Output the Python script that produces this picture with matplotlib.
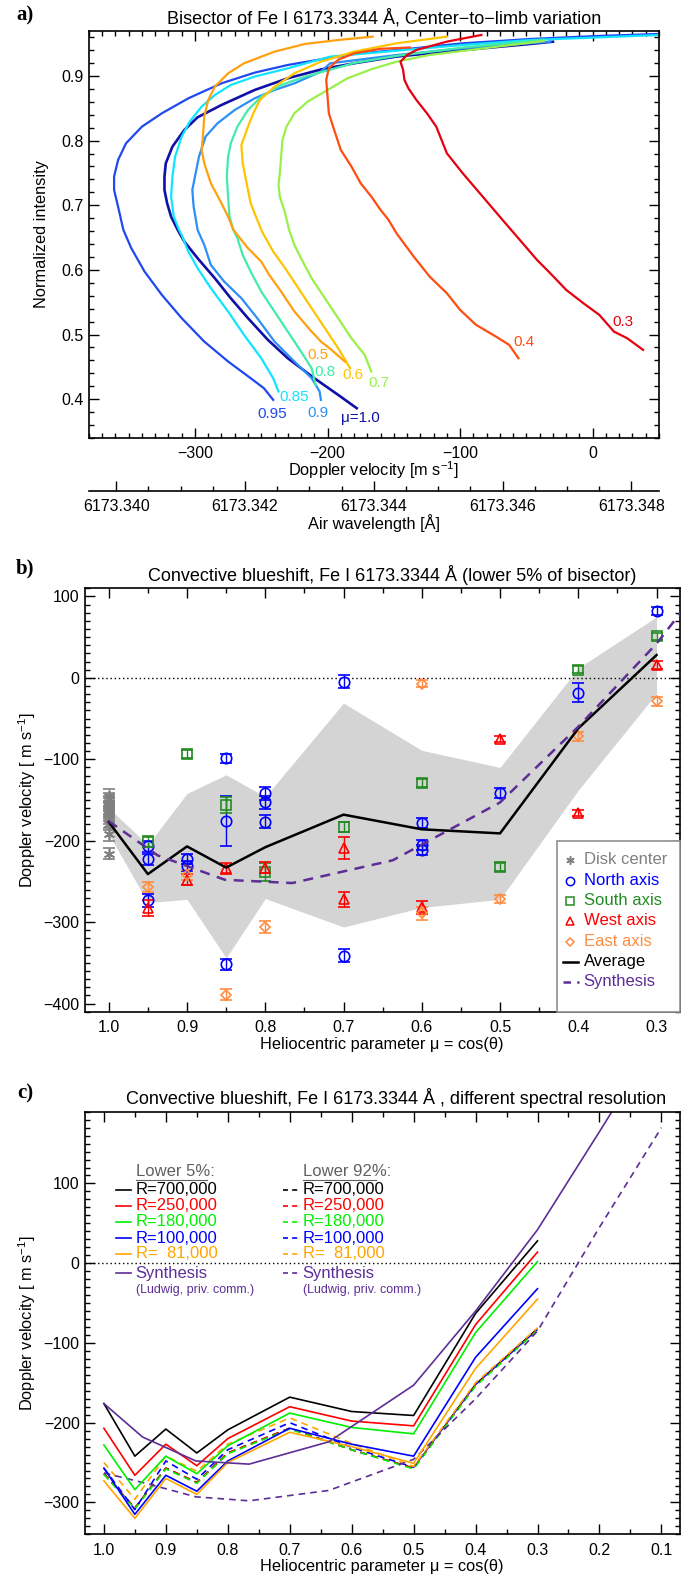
import numpy as np
import matplotlib
matplotlib.use("Agg")
import matplotlib.pyplot as plt
from matplotlib.ticker import MultipleLocator, FixedLocator, FormatStrFormatter
from matplotlib.patches import Rectangle
from matplotlib.lines import Line2D

plt.rcParams['font.family'] = ['Liberation Sans', 'DejaVu Sans']
plt.rcParams['mathtext.fontset'] = 'custom'
plt.rcParams['mathtext.rm'] = 'Liberation Sans'
plt.rcParams['mathtext.it'] = 'Liberation Sans:italic'

# ------------------------------------------------------------
# Panel a: bisectors, Doppler velocity [m/s] vs normalized intensity
# ------------------------------------------------------------
mu_labels = ["μ=1.0", "0.95", "0.9", "0.85", "0.8", "0.7", "0.6", "0.5", "0.4", "0.3"]
curve_colors = ["#1010a8", "#2048f0", "#2c8ff8", "#10e4ff", "#40eca8",
                "#98f048", "#ffc400", "#ffa010", "#ff4c10", "#e60010"]

bis_10_v = [-30, -47, -98, -148, -180, -205, -230, -255, -280, -298, -308, -317, -322, -323, -323,
            -321, -318, -313, -308, -298, -285, -273, -260, -245, -230, -210, -192, -178]
bis_10_i = [0.953, 0.9495, 0.940, 0.930, 0.9196, 0.910, 0.8964, 0.8783, 0.8551, 0.8361, 0.8165, 0.7907,
            0.7649, 0.7443, 0.7237, 0.7031, 0.6824, 0.6618, 0.6438, 0.618, 0.5871, 0.5562, 0.5253,
            0.4918, 0.4634, 0.4325, 0.4067, 0.3861]
bis_095_v = [51, 3, -47, -98, -148, -180, -205, -230, -255, -280, -305, -325, -340, -352, -358, -361,
             -361, -358, -354, -348, -338, -325, -310, -293, -275, -258, -248, -241]
bis_095_i = [0.965, 0.9618, 0.9572, 0.9505, 0.940, 0.934, 0.9257, 0.917, 0.9051, 0.8886, 0.8654, 0.8422,
             0.8216, 0.7958, 0.77, 0.7443, 0.7237, 0.6979, 0.6618, 0.6335, 0.5974, 0.5614, 0.5253,
             0.4892, 0.4583, 0.4325, 0.417, 0.399]
bis_09_v = [-32, -98, -148, -198, -205, -225, -240, -255, -270, -283, -292, -297, -300, -302, -301,
            -298, -293, -288, -278, -265, -253, -240, -225, -212, -206, -205]
bis_09_i = [0.953, 0.9427, 0.9324, 0.9196, 0.9067, 0.8886, 0.8783, 0.8654, 0.8474, 0.8268, 0.8062,
            0.7752, 0.7443, 0.7237, 0.6979, 0.6618, 0.6387, 0.6077, 0.582, 0.5562, 0.5253, 0.4892,
            0.4583, 0.4325, 0.4119, 0.399]
bis_085_v = [51, -47, -98, -148, -198, -230, -255, -273, -285, -295, -304, -310, -315, -317, -318,
             -316, -312, -310, -305, -298, -288, -275, -263, -250, -241, -237]
bis_085_i = [0.9634, 0.9556, 0.9479, 0.9391, 0.9299, 0.9118, 0.899, 0.886, 0.8706, 0.8525, 0.8293,
             0.8062, 0.7752, 0.7443, 0.7134, 0.6824, 0.6618, 0.6541, 0.6284, 0.6026, 0.5717, 0.5356,
             0.4995, 0.4634, 0.4325, 0.4119]
bis_08_v = [-37, -98, -148, -180, -217, -235, -250, -260, -268, -273, -275, -276, -275, -274, -271,
            -268, -264, -258, -250, -240, -230, -220, -212, -209]
bis_08_i = [0.956, 0.944, 0.931, 0.920, 0.8989, 0.886, 0.868, 0.8474, 0.8216, 0.7958, 0.7752, 0.7443,
            0.7134, 0.6824, 0.6618, 0.649, 0.6232, 0.5974, 0.5665, 0.5356, 0.5046, 0.4737, 0.4479, 0.4222]
bis_07_v = [-37, -72, -123, -148, -167, -185, -200, -215, -225, -231, -234, -235, -236, -237, -236,
            -232, -229, -225, -220, -212, -202, -192, -182, -172, -167]
bis_07_i = [0.954, 0.9453, 0.9325, 0.9221, 0.9103, 0.8964, 0.8783, 0.8603, 0.8422, 0.8216, 0.801,
            0.7752, 0.7494, 0.7314, 0.7134, 0.6876, 0.6618, 0.6387, 0.618, 0.5871, 0.5562, 0.5253,
            0.4943, 0.4686, 0.4428]
bis_06_v = [-110, -148, -180, -205, -225, -240, -251, -256, -260, -265, -264, -261, -258, -254, -250,
            -248, -241, -232, -222, -212, -202, -192, -183]
bis_06_i = [0.9608, 0.9505, 0.9376, 0.9221, 0.9041, 0.8835, 0.8629, 0.8422, 0.8216, 0.7932, 0.7649,
            0.734, 0.7031, 0.6824, 0.6618, 0.6541, 0.6284, 0.6026, 0.5717, 0.5407, 0.5098, 0.4789, 0.4479]
bis_05_v = [-166, -192, -217, -240, -263, -275, -285, -290, -293, -294, -295, -293, -288, -280, -275,
            -271, -260, -250, -244, -235, -225, -212, -205, -197, -187]
bis_05_i = [0.9608, 0.9556, 0.9495, 0.9376, 0.9196, 0.9041, 0.8835, 0.8629, 0.8371, 0.8062, 0.7855,
            0.7649, 0.734, 0.7031, 0.6824, 0.6618, 0.6335, 0.6129, 0.5923, 0.5665, 0.5356, 0.5046,
            0.4892, 0.4763, 0.4583]
bis_04_v = [-138, -160, -180, -192, -199, -201, -200, -199, -195, -190, -182, -175, -167, -160, -154,
            -148, -135, -123, -110, -100, -88, -73, -63, -56]
bis_04_i = [0.944, 0.942, 0.935, 0.925, 0.912, 0.894, 0.868, 0.842, 0.8165, 0.7855, 0.76, 0.734,
            0.7134, 0.6928, 0.6773, 0.6567, 0.6206, 0.5897, 0.5639, 0.5381, 0.515, 0.4969, 0.484, 0.4634]
bis_03_v = [-84, -110, -133, -140, -145, -143, -142, -139, -133, -125, -118, -114, -110, -98, -83,
            -68, -55, -42, -32, -20, -7, 5, 16, 26, 38]
bis_03_i = [0.9634, 0.9531, 0.9402, 0.9324, 0.9221, 0.9092, 0.8938, 0.8809, 0.8629, 0.8422, 0.8216,
            0.801, 0.7804, 0.7494, 0.7134, 0.6773, 0.6464, 0.6154, 0.5948, 0.5691, 0.5484, 0.5304,
            0.5046, 0.4943, 0.4763]

bis_v = [bis_10_v, bis_095_v, bis_09_v, bis_085_v, bis_08_v, bis_07_v, bis_06_v, bis_05_v, bis_04_v, bis_03_v]
bis_i = [bis_10_i, bis_095_i, bis_09_i, bis_085_i, bis_08_i, bis_07_i, bis_06_i, bis_05_i, bis_04_i, bis_03_i]

# where the mu labels sit (velocity, intensity)
lab_v = [-175, -242, -207, -225, -202, -161, -181, -207, -52, 23]
lab_i = [0.371, 0.377, 0.378, 0.403, 0.442, 0.425, 0.437, 0.468, 0.488, 0.519]

lam0 = 6173.3474      # wavelength of zero velocity on the lower axis
c_light = 299792458.0
lam_ticks = [6173.340, 6173.342, 6173.344, 6173.346, 6173.348]

# ------------------------------------------------------------
# Panel b: convective blueshift from the lower 5% of the bisector
# ------------------------------------------------------------
mu_grid = [1.0, 0.95, 0.9, 0.85, 0.8, 0.7, 0.6, 0.5, 0.4, 0.3]

disk_mu = [1.0] * 12
disk_v = [-145, -149, -153, -156, -159, -162, -165, -168, -172, -179, -192, -216]
disk_err = [8, 8, 8, 8, 8, 8, 8, 8, 8, 8, 8, 7]

north_mu = [0.95, 0.95, 0.95, 0.9, 0.9, 0.85, 0.85, 0.85, 0.8, 0.8, 0.8, 0.7, 0.7, 0.6, 0.6, 0.6, 0.5, 0.4, 0.3]
north_v = [-207, -223, -273, -222, -231, -99, -176, -352, -142, -153, -177, -5, -341, -178, -205, -211, -141, -18, 82]
north_err = [7, 7, 8, 6, 6, 5, 31, 7, 8, 8, 8, 8, 8, 6, 6, 6, 6, 12, 5]

south_mu = [0.95, 0.9, 0.85, 0.8, 0.7, 0.6, 0.5, 0.4, 0.3]
south_v = [-201, -93, -156, -238, -183, -129, -232, 10, 51]
south_err = [7, 5, 10, 11, 6, 5, 5, 4, 4]

west_mu = [0.95, 0.9, 0.85, 0.8, 0.7, 0.7, 0.6, 0.5, 0.4, 0.3]
west_v = [-283, -248, -234, -233, -209, -272, -282, -75, -166, 16]
west_err = [10, 7, 7, 7, 13, 9, 8, 4, 4, 5]

east_mu = [0.95, 0.9, 0.85, 0.8, 0.6, 0.6, 0.5, 0.4, 0.3]
east_v = [-257, -242, -389, -306, -7, -289, -272, -72, -29]
east_err = [6, 6, 7, 7, 4, 8, 5, 6, 5]

avg_v = [-177, -241, -207, -233, -208, -168, -186, -191, -62, 28]
band_hi = [-160, -205, -142, -119, -146, -31, -89, -110, 12, 75]
band_lo = [-192, -276, -272, -344, -271, -306, -282, -272, -138, -19]

# synthesis (Ludwig, priv. comm.)
syn_mu = [1.0, 0.9376, 0.8516, 0.7656, 0.637, 0.5, 0.4, 0.3, 0.2, 0.1]
syn5_v = [-176, -218, -248, -252, -224, -153, -60, 42, 165, 290]
syn92_v = [-263, -275, -293, -298, -285, -246, -170, -85, 45, 170]

# ------------------------------------------------------------
# Panel c: different spectral resolution
# ------------------------------------------------------------
res_labels = ["R=700,000", "R=250,000", "R=180,000", "R=100,000", "R=  81,000"]
res_colors = ["#000000", "#ff0000", "#00f000", "#0000ff", "#ffa500"]

low5_700k = [-176, -242, -208, -238, -209, -168, -186, -191, -63, 28]
low5_250k = [-207, -266, -227, -254, -220, -180, -198, -204, -77, 14]
low5_180k = [-228, -284, -242, -264, -229, -188, -206, -214, -87, 2]
low5_100k = [-257, -315, -266, -286, -248, -207, -227, -242, -118, -32]
low5_81k = [-273, -320, -270, -290, -250, -212, -230, -251, -132, -45]

low92_700k = [-264, -307, -257, -275, -238, -207, -234, -257, -152, -82]
low92_250k = [-264, -307, -257, -275, -238, -207, -234, -257, -153, -83]
low92_180k = [-265, -308, -258, -276, -239, -208, -234, -258, -154, -84]
low92_100k = [-257, -309, -248, -271, -234, -200, -231, -256, -152, -83]
low92_81k = [-250, -296, -242, -261, -227, -194, -226, -255, -150, -81]

low5 = [low5_700k, low5_250k, low5_180k, low5_100k, low5_81k]
low92 = [low92_700k, low92_250k, low92_180k, low92_100k, low92_81k]

purple = "#5c2e96"

# ------------------------------------------------------------
# Figure layout (pixel positions, 697 x 1577)
# ------------------------------------------------------------
W, H = 697, 1577
fig = plt.figure(figsize=(W / 100, H / 100), dpi=100)


def px(x, y):
    return x / W, 1 - y / H


def add_box(left, top, right, bottom):
    return fig.add_axes([left / W, 1 - bottom / H, (right - left) / W, (bottom - top) / H])


def idl_ticks(ax):
    ax.tick_params(which="both", direction="in", top=True, right=True,
                   labelsize=11.5, width=1)
    ax.tick_params(which="major", length=7, pad=6)
    ax.tick_params(which="minor", length=3.5)
    ax.tick_params(axis="y", which="major", pad=4)
    for s in ax.spines.values():
        s.set_linewidth(1.2)


# ---------------- panel a ----------------
ax_a = add_box(88.9, 30.7, 659, 438)
for v, i, col in zip(bis_v, bis_i, curve_colors):
    ax_a.plot(v, i, color=col, lw=1.9 if col == curve_colors[0] else 1.6,
              solid_joinstyle="round")
for lab, lv, li, col in zip(mu_labels, lab_v, lab_i, curve_colors):
    ax_a.text(lv, li, lab, color=col, fontsize=11, ha="center", va="center")

ax_a.set_xlim(-380, 50)
ax_a.set_ylim(0.34, 0.97)
ax_a.xaxis.set_major_locator(MultipleLocator(100))
ax_a.xaxis.set_minor_locator(MultipleLocator(10))
ax_a.yaxis.set_major_locator(MultipleLocator(0.1))
ax_a.yaxis.set_minor_locator(MultipleLocator(0.02))
idl_ticks(ax_a)

sec = ax_a.secondary_xaxis(-0.1301, functions=(lambda v: lam0 * (1 + v / c_light),
                                               lambda l: (l / lam0 - 1) * c_light))
sec.xaxis.set_major_locator(FixedLocator(lam_ticks))
sec.xaxis.set_minor_locator(FixedLocator(np.arange(6173.3395, 6173.3486, 0.0005)))
sec.xaxis.set_major_formatter(FormatStrFormatter("%.3f"))
sec.tick_params(which="both", direction="in", labelsize=11.5, width=1)
sec.tick_params(which="major", length=7, pad=6)
sec.tick_params(which="minor", length=3.5)
sec.spines["bottom"].set_linewidth(1.2)

fig.text(*px(384, 18), "Bisector of Fe I 6173.3344 Å, Center−to−limb variation",
         fontsize=13, ha="center", va="center")
fig.text(*px(374, 470), "Doppler velocity [m s$^{-1}$]", fontsize=11.8, ha="center", va="center")
fig.text(*px(374, 523), "Air wavelength [Å]", fontsize=11.8, ha="center", va="center")
fig.text(*px(42, 234), "Normalized intensity", fontsize=11.8, ha="center", va="center", rotation=90)
fig.text(*px(25, 15), "a)", fontsize=15, fontweight="bold", family="Liberation Serif",
         ha="center", va="center")

# ---------------- panel b ----------------
ax_b = add_box(85.3, 588.3, 680, 1011.7)
ax_b.fill_between(mu_grid, band_lo, band_hi, color="#d4d4d4", lw=0, zorder=0)
ax_b.axhline(0, color="black", ls=(0, (1, 2)), lw=1, zorder=1)

eb = dict(capsize=4, elinewidth=1, capthick=1, mew=1.2, ls="none", zorder=3)
ax_b.errorbar(disk_mu, disk_v, yerr=disk_err, marker=(6, 2, 0), ms=8,
              color="#808080", **eb)
ax_b.errorbar(north_mu, north_v, yerr=north_err, marker="o", ms=7.5, mfc="none",
              color="#0000ff", **eb)
ax_b.errorbar(south_mu, south_v, yerr=south_err, marker="s", ms=6.5, mfc="none",
              color="#228b22", **eb)
ax_b.errorbar(west_mu, west_v, yerr=west_err, marker="^", ms=7.5, mfc="none",
              color="#ff0000", **eb)
ax_b.errorbar(east_mu, east_v, yerr=east_err, marker="D", ms=5.5, mfc="none",
              color="#ff8c40", **eb)
ax_b.plot(mu_grid, avg_v, color="black", lw=1.8, zorder=4)
ax_b.plot(syn_mu, syn5_v, color=purple, lw=1.8, dashes=(4, 3), zorder=4)

ax_b.set_xlim(1.03, 0.27)
ax_b.set_ylim(-410, 110)
ax_b.xaxis.set_major_locator(MultipleLocator(0.1))
ax_b.xaxis.set_minor_locator(MultipleLocator(0.05))
ax_b.xaxis.set_major_formatter(FormatStrFormatter("%.1f"))
ax_b.yaxis.set_major_locator(MultipleLocator(100))
ax_b.yaxis.set_minor_locator(MultipleLocator(10))
idl_ticks(ax_b)

# legend box of panel b
fig.add_artist(Rectangle(px(557, 1011.7), (680 - 557) / W, (1011.7 - 840.7) / H,
                         transform=fig.transFigure, facecolor="white",
                         edgecolor="#909090", lw=1.2, zorder=5))
leg_names = ["Disk center", "North axis", "South axis", "West axis", "East axis", "Average", "Synthesis"]
leg_colors = ["#808080", "#0000ff", "#228b22", "#ff0000", "#ff8c40", "#000000", purple]
leg_markers = [(6, 2, 0), "o", "s", "^", "D", None, None]
leg_rows = [860, 880.5, 900.7, 920.7, 941.7, 961.7, 981.7]
for name, col, mk, yy in zip(leg_names, leg_colors, leg_markers, leg_rows):
    if mk is not None:
        fig.add_artist(Line2D([570 / W], [1 - yy / H], marker=mk, ms=6 if mk != "D" else 4.5,
                              mfc="none", mec=col, mew=1.1, ls="none", zorder=6))
    elif name == "Average":
        fig.add_artist(Line2D([563 / W, 578 / W], [1 - yy / H] * 2, color=col, lw=1.8, zorder=6))
    else:
        fig.add_artist(Line2D([563 / W, 579 / W], [1 - yy / H] * 2, color=col, lw=1.8,
                              dashes=(3, 2.5), zorder=6))
    t = fig.text(*px(583.5, yy), name, color=col, fontsize=12, ha="left", va="center")
    t.set_zorder(6)

fig.text(*px(392, 575), "Convective blueshift, Fe I 6173.3344 Å (lower 5% of bisector)",
         fontsize=13, ha="center", va="center")
fig.text(*px(382, 1045), "Heliocentric parameter μ = cos(θ)", fontsize=11.8, ha="center", va="center")
fig.text(*px(27, 800), "Doppler velocity [ m s$^{-1}$]", fontsize=11.8, ha="center", va="center",
         rotation=90)
fig.text(*px(25, 568), "b)", fontsize=15, fontweight="bold", family="Liberation Serif",
         ha="center", va="center")

# ---------------- panel c ----------------
ax_c = add_box(85.3, 1111.7, 680, 1534.3)
ax_c.axhline(0, color="black", ls=(0, (1, 2)), lw=1, zorder=1)
for vals, col in zip(low92, res_colors):
    ax_c.plot(mu_grid, vals, color=col, lw=1.2, dashes=(4, 3))
ax_c.plot(syn_mu, syn92_v, color=purple, lw=1.2, dashes=(4, 3))
for vals, col in zip(low5, res_colors):
    ax_c.plot(mu_grid, vals, color=col, lw=1.2)
ax_c.plot(syn_mu, syn5_v, color=purple, lw=1.2)

ax_c.set_xlim(1.03, 0.07)
ax_c.set_ylim(-340, 190)
ax_c.xaxis.set_major_locator(MultipleLocator(0.1))
ax_c.xaxis.set_minor_locator(MultipleLocator(0.05))
ax_c.xaxis.set_major_formatter(FormatStrFormatter("%.1f"))
ax_c.yaxis.set_major_locator(MultipleLocator(100))
ax_c.yaxis.set_minor_locator(MultipleLocator(10))
idl_ticks(ax_c)

# legend of panel c, two columns
rows_c = [1190, 1205.8, 1221.8, 1238.3, 1254]
for col_x, head, style in [(135.6, "Lower 5%:", "-"), (302.7, "Lower 92%:", "--")]:
    fig.text(*px(col_x, 1171), head, color="#606060", fontsize=12, ha="left", va="center")
    fig.add_artist(Line2D([col_x / W, (col_x + (71 if head == "Lower 5%:" else 73)) / W],
                          [1 - 1179.5 / H] * 2, color="#606060", lw=0.8))
    names = res_labels + ["Synthesis"]
    cols = res_colors + [purple]
    ys = rows_c + [1273.3]
    for name, col, yy in zip(names, cols, ys):
        ln = Line2D([(col_x - 20) / W, (col_x - 5) / W], [1 - yy / H] * 2, color=col, lw=1.2)
        if style == "--":
            ln.set_dashes((3, 2.5))
        fig.add_artist(ln)
        fig.text(*px(col_x, yy), name, color=col, fontsize=12, ha="left", va="center")
    fig.text(*px(col_x, 1290), "(Ludwig, priv. comm.)", color=purple, fontsize=9,
             ha="left", va="center")

fig.text(*px(396, 1098), "Convective blueshift, Fe I 6173.3344 Å , different spectral resolution",
         fontsize=13, ha="center", va="center")
fig.text(*px(382, 1567), "Heliocentric parameter μ = cos(θ)", fontsize=11.8, ha="center", va="center")
fig.text(*px(27, 1323), "Doppler velocity [ m s$^{-1}$]", fontsize=11.8, ha="center", va="center",
         rotation=90)
fig.text(*px(25, 1093), "c)", fontsize=15, fontweight="bold", family="Liberation Serif",
         ha="center", va="center")

fig.savefig("out.png", dpi=100)
